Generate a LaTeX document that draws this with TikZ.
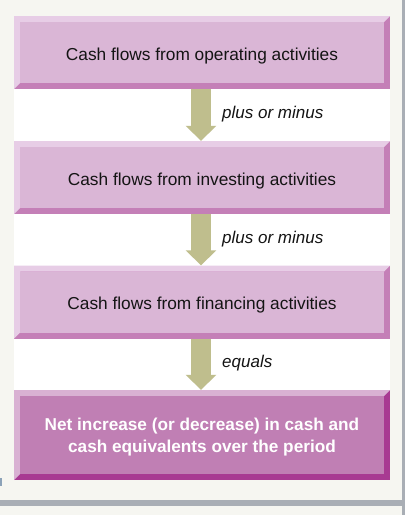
\documentclass[tikz,border=0pt]{standalone}
\usepackage{fontspec}
\setmainfont{Liberation Sans}
\usetikzlibrary{arrows.meta}
\definecolor{offwhite}{HTML}{F6F6F1}
\definecolor{rulegray}{HTML}{A9AEB5}
\definecolor{faceA}{HTML}{DAB6D6}
\definecolor{lightA}{HTML}{E7CDE6}
\definecolor{darkA}{HTML}{C47FB7}
\definecolor{faceB}{HTML}{C07FB4}
\definecolor{lightB}{HTML}{D9B1D3}
\definecolor{darkB}{HTML}{A83A92}
\definecolor{arrowc}{HTML}{BFBE8D}
\definecolor{inkc}{HTML}{141414}
\definecolor{bluemark}{HTML}{8CA2B8}
\tikzset{
  bevelbox/.style n args={3}{
    draw=none, fill=#3, inner sep=0pt, minimum width=376pt,
    align=center,
    path picture={
      \fill[#2] (path picture bounding box.north west) -- (path picture bounding box.north east)
        -- ([shift={(-6pt,-6pt)}]path picture bounding box.north east)
        -- ([shift={(6pt,-6pt)}]path picture bounding box.north west)
        -- ([shift={(6pt,6pt)}]path picture bounding box.south west)
        -- (path picture bounding box.south west) -- cycle;
      \fill[#1] ([shift={(6pt,-6pt)}]path picture bounding box.north west)
        rectangle ([shift={(-6pt,6pt)}]path picture bounding box.south east);
    }},
  lightbox/.style={bevelbox={faceA}{lightA}{darkA}, minimum height=73pt, text=inkc,
    font=\fontsize{17.3}{22}\selectfont, text height=17pt, text depth=2pt},
  resultbox/.style={bevelbox={faceB}{lightB}{darkB}, minimum height=90pt, text=white,
    font=\fontsize{17.2}{22}\selectfont\bfseries, text height=38pt, text depth=4pt},
  flowarrow/.style={draw=arrowc, line width=20pt, -{Triangle[width=30pt,length=15pt]}},
  steplabel/.style={anchor=west, inner sep=0pt, text=inkc, font=\fontsize{17}{20}\selectfont\itshape},
}
\begin{document}
\begin{tikzpicture}[x=1pt,y=-1pt]
  \useasboundingbox (0,0) rectangle (405,515);
  \fill[offwhite] (0,0) rectangle (405,515);
  \fill[rulegray] (402,0) rectangle (404.5,515);
  \fill[rulegray] (0,500) rectangle (402,506);
  \fill[bluemark] (0,478) rectangle (1.5,486);
  \fill[white] (14,16) rectangle (390,480);

  \node[lightbox] (op) at (202,52.5) {Cash flows from operating activities};
  \node[lightbox] (inv) at (202,177.5) {Cash flows from investing activities};
  \node[lightbox] (fin) at (202,302) {Cash flows from financing activities};
  \node[resultbox] (net) at (202,435) {Net increase (or decrease) in cash and\\cash equivalents over the period};

  \draw[flowarrow] ([xshift=-1pt]op.south) -- ([xshift=-1pt]inv.north);
  \draw[flowarrow] ([xshift=-1pt]inv.south) -- ([xshift=-1pt]fin.north);
  \draw[flowarrow] ([xshift=-1pt]fin.south) -- ([xshift=-1pt]net.north);

  \node[steplabel] (l1) at (222,114) {plus or minus};
  \node[steplabel] (l2) at (222,239) {plus or minus};
  \node[steplabel] (l3) at (222,363) {equals};
\end{tikzpicture}
\end{document}
